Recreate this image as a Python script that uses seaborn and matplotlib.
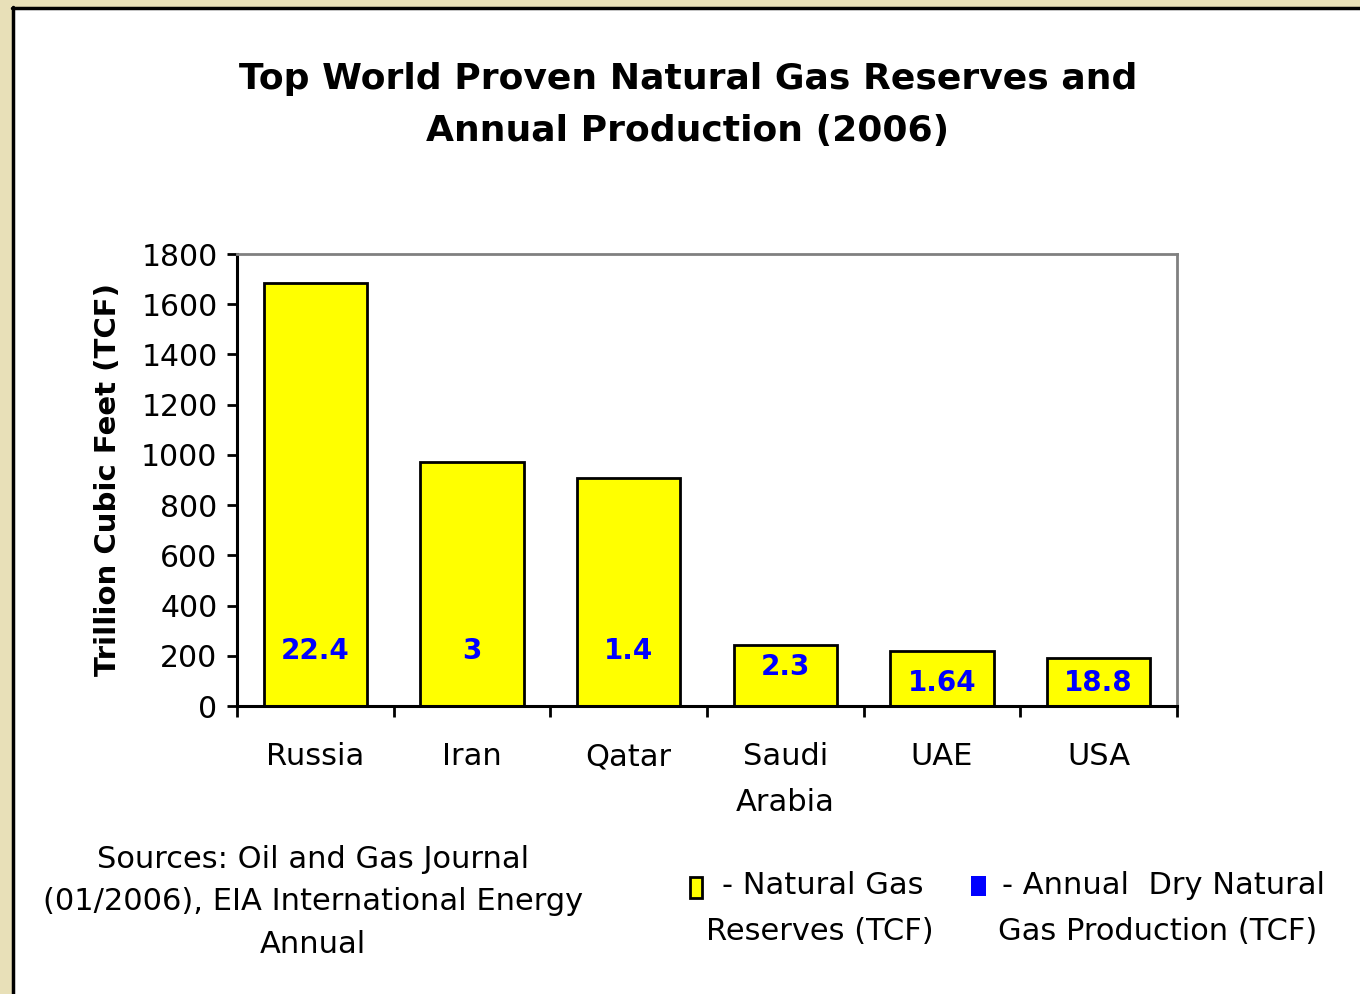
import matplotlib
matplotlib.use("Agg")
import matplotlib.pyplot as plt
import seaborn as sns
import pandas as pd
from matplotlib.patches import Rectangle
from matplotlib.lines import Line2D

countries = ["Russia", "Iran", "Qatar", "Saudi\nArabia", "UAE", "USA"]
reserves = [1685, 972, 908, 243, 219, 191]
production = ["22.4", "3", "1.4", "2.3", "1.64", "18.8"]
yticks = list(range(0, 1801, 200))

df = pd.DataFrame({"country": countries, "reserves": reserves})

sns.set_theme(style="white")
plt.rcParams["font.family"] = ["DejaVu Sans"]
plt.rcParams["text.color"] = "black"

W, H = 1360, 994
fig = plt.figure(figsize=(W / 100, H / 100), dpi=100)
fig.patch.set_facecolor("#E8E0B8")

# white panel with black left/top border
fig.patches.append(Rectangle((12 / W, 0), 1 - 12 / W, 1 - 7 / H, transform=fig.transFigure,
                             facecolor="white", edgecolor="none", zorder=-10))
fig.lines.append(Line2D([13 / W, 13 / W], [0, 1 - 7 / H], transform=fig.transFigure,
                        color="black", lw=2.5))
fig.lines.append(Line2D([12 / W, 1], [1 - 8 / H, 1 - 8 / H], transform=fig.transFigure,
                        color="black", lw=2.5))

ax = fig.add_axes([237 / W, 1 - 706 / H, 940 / W, 452 / H])
ax.set_facecolor("white")
sns.barplot(data=df, x="country", y="reserves", color="#FFFF00", saturation=1,
            width=0.66, edgecolor="black", linewidth=2, ax=ax)

for i, (v, lab) in enumerate(zip(reserves, production)):
    ypos = 92 if v < 230 else min(v - 88, 219)
    ax.text(i, ypos, lab, ha="center", va="center", color="#0000FF",
            fontsize=20, fontweight="bold")

ax.set_ylim(0, 1800)
ax.set_xlim(-0.5, len(countries) - 0.5)
ax.set_yticks(yticks)
ax.set_yticklabels([str(t) for t in yticks], fontsize=21.5, color="black")
ax.tick_params(axis="y", direction="out", length=7, width=2, color="black", pad=7, left=True)
ax.set_xticks(range(len(countries)))
ax.set_xticklabels(countries, fontsize=22, color="black", linespacing=1.75)
ax.tick_params(axis="x", which="major", length=0, pad=26)
ax.set_xticks([i - 0.5 for i in range(len(countries) + 1)], minor=True)
ax.tick_params(axis="x", which="minor", direction="out", length=8, width=2,
               color="black", bottom=True)

ax.set_xlabel("")
ax.set_ylabel("Trillion Cubic Feet (TCF)", fontsize=21, fontweight="bold", color="black",
              labelpad=14)

for side in ["left", "bottom"]:
    ax.spines[side].set_color("black")
    ax.spines[side].set_linewidth(2.2)
for side in ["top", "right"]:
    ax.spines[side].set_color("#808080")
    ax.spines[side].set_linewidth(2)
ax.grid(False)

fig.text(688 / W, 1 - 105 / H, "Top World Proven Natural Gas Reserves and\nAnnual Production (2006)",
         ha="center", va="center", fontsize=26, fontweight="bold", color="black",
         linespacing=1.65)

fig.text(313 / W, 1 - 902 / H, "Sources: Oil and Gas Journal\n(01/2006), EIA International Energy\nAnnual",
         ha="center", va="center", fontsize=22, color="black", linespacing=1.6)

# legend drawn by hand
fig.patches.append(Rectangle((690 / W, 1 - 898 / H), 12 / W, 21 / H, transform=fig.transFigure,
                             facecolor="#FFFF00", edgecolor="black", lw=2))
fig.text(722 / W, 1 - 886 / H, "- Natural Gas", ha="left", va="center", fontsize=22)
fig.text(820 / W, 1 - 931 / H, "Reserves (TCF)", ha="center", va="center", fontsize=22)
fig.patches.append(Rectangle((971 / W, 1 - 896 / H), 15 / W, 20 / H, transform=fig.transFigure,
                             facecolor="#0000FF", edgecolor="none"))
fig.text(1002 / W, 1 - 886 / H, "- Annual  Dry Natural", ha="left", va="center", fontsize=22)
fig.text(1158 / W, 1 - 931 / H, "Gas Production (TCF)", ha="center", va="center", fontsize=22)

fig.savefig("out.png", dpi=100, facecolor=fig.get_facecolor())
